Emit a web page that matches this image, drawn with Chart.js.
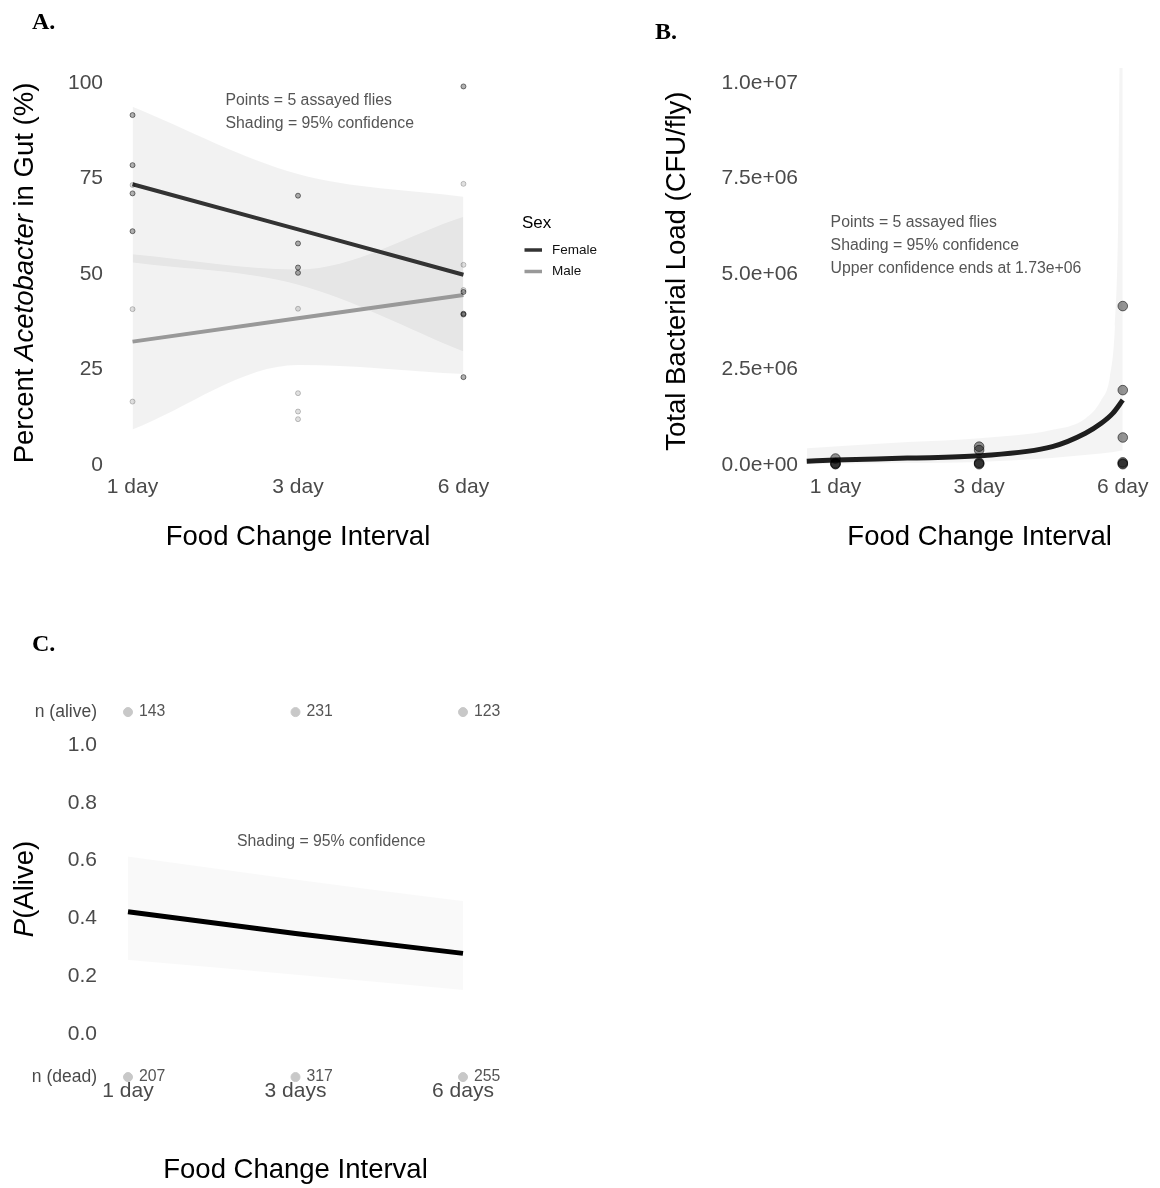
<!DOCTYPE html>
<html>
<head>
<meta charset="utf-8">
<script src="https://cdn.jsdelivr.net/npm/chart.js@4.4.1/dist/chart.umd.min.js"></script>
<style>
  body { margin: 0; background: #fff; }
  #page { position: relative; width: 1160px; height: 1188px; overflow: hidden; }
  canvas { position: absolute; }
  .tag { position: absolute; font: bold 24px "Liberation Serif", "Times New Roman", serif; line-height: 24px; color: #000; }
</style>
</head>
<body>
<div id="page">
  <canvas id="chartA" width="640" height="580" style="left:0;top:0"></canvas>
  <canvas id="chartB" width="544" height="580" style="left:620px;top:0"></canvas>
  <canvas id="chartC" width="640" height="588" style="left:0;top:600px"></canvas>
  <div class="tag" style="left:32px;top:9px">A.</div>
  <div class="tag" style="left:655px;top:19px">B.</div>
  <div class="tag" style="left:32px;top:631px">C.</div>
</div>
<script>
// categories (x positions 1..3)
var xPos = [1, 2, 3];
var daysAB = ['1 day', '3 day', '6 day'];
var daysC = ['1 day', '3 days', '6 days'];

// A - percent Acetobacter
var femaleX = [1, 1, 1, 1, 2, 2, 2, 2, 3, 3, 3, 3, 3];
var femaleY = [91.6, 78.5, 71.1, 61.2, 70.5, 58.0, 51.7, 50.3, 99.1, 45.3, 39.6, 39.4, 23.0];
var maleX = [1, 1, 1, 2, 2, 2, 2, 3, 3, 3];
var maleY = [73.3, 40.8, 16.6, 40.9, 18.8, 14.0, 12.0, 73.6, 52.4, 45.8];
var femaleFit = [73.5, 61.7, 49.8];
var femaleUpper = [93.8, 76.2, 70.2];
var femaleLower = [53.0, 47.2, 29.7];
var maleFit = [32.3, 38.4, 44.5];
var maleUpper = [55.2, 51.2, 65.0];
var maleLower = [9.3, 26.2, 23.8];
var ticksA = [0, 25, 50, 75, 100];

// B - total bacterial load
var loadX = [1, 1, 1, 1, 2, 2, 2, 2, 2, 3, 3, 3, 3, 3, 3];
var loadY = [0.17e6, 0.05e6, 0.03e6, 0.02e6, 0.48e6, 0.39e6, 0.06e6, 0.04e6, 0.02e6, 4.16e6, 1.96e6, 0.72e6, 0.07e6, 0.04e6, 0.02e6];
var fitBX = [0.8, 1, 1.5, 2, 2.51, 2.74, 2.85, 2.93, 3.0];
var fitBY = [0.10e6, 0.13e6, 0.18e6, 0.24e6, 0.48e6, 0.83e6, 1.09e6, 1.35e6, 1.70e6];
var bandBX = [0.8, 1.5, 2, 2.51, 2.74, 2.85, 2.91, 2.945, 2.967, 2.98, 3.0];
var bandBUpper = [0.44e6, 0.60e6, 0.70e6, 0.92e6, 1.22e6, 1.70e6, 2.31e6, 3.62e6, 6.24e6, 11e6, 11e6];
var bandBLower = [0.02e6, 0.05e6, 0.08e6, 0.18e6, 0.26e6, 0.30e6, 0.33e6, 0.35e6, 0.36e6, 0.37e6, 0.38e6];
var ticksB = [0, 2.5e6, 5e6, 7.5e6, 10e6];

// C - survival
var survFit = [0.423, 0.348, 0.279];
var survUpper = [0.614, 0.535, 0.460];
var survLower = [0.256, 0.205, 0.152];
var nAlive = [143, 231, 123];
var nDead = [207, 317, 255];
var ticksC = [0, 0.2, 0.4, 0.6, 0.8, 1.0];
var rowAlive = 1.114, rowDead = -0.149;

var family = '"Liberation Sans", Arial, Helvetica, sans-serif';
var titleSize = 27.5;
Chart.defaults.font.family = family;
Chart.defaults.color = '#4a4a4a';
Chart.defaults.animation = false;
Chart.defaults.events = [];
Chart.defaults.plugins.legend.display = false;
Chart.defaults.plugins.tooltip.enabled = false;

function xy(xs, ys) {
  return xs.map(function (x, i) { return { x: x, y: ys[i] }; });
}

function band(xs, ys, fill, shade) {
  return {
    data: xy(xs, ys), fill: fill, backgroundColor: shade,
    borderColor: 'rgba(0,0,0,0)', borderWidth: 0, pointRadius: 0,
    cubicInterpolationMode: 'monotone', order: 4
  };
}

function points(xs, ys, r, fillCol, edgeCol) {
  return {
    data: xy(xs, ys), showLine: false, pointRadius: r, pointBorderWidth: 1,
    pointBackgroundColor: fillCol, pointBorderColor: edgeCol,
    backgroundColor: fillCol, borderColor: edgeCol, order: 1, clip: false
  };
}

function xAxis(min, max, labels, height, titlePad) {
  return {
    type: 'linear', min: min, max: max, bounds: 'data',
    grid: { display: false, drawTicks: false }, border: { display: false },
    afterBuildTicks: function (s) { s.ticks = xPos.map(function (v) { return { value: v }; }); },
    afterFit: function (s) { s.height = height; },
    ticks: {
      autoSkip: false, maxRotation: 0, padding: 0, font: { size: 21 },
      callback: function (v) { return labels[xPos.indexOf(v)]; }
    },
    title: { display: true, text: 'Food Change Interval', color: '#000', font: { size: titleSize }, padding: { top: 0, bottom: titlePad } }
  };
}

function yAxis(min, max, ticks, width, pad, fmt) {
  return {
    type: 'linear', min: min, max: max, bounds: 'data',
    grid: { display: false, drawTicks: false }, border: { display: false },
    afterBuildTicks: function (s) { s.ticks = ticks.map(function (v) { return { value: v }; }); },
    afterFit: function (s) { s.width = width; },
    ticks: { autoSkip: false, padding: pad, font: { size: 21 }, callback: fmt }
  };
}

function rotatedTitle(ctx, cx, cy, parts) {
  ctx.save();
  ctx.translate(cx, cy);
  ctx.rotate(-Math.PI / 2);
  ctx.fillStyle = '#000';
  ctx.textBaseline = 'middle';
  ctx.textAlign = 'left';
  var total = 0;
  parts.forEach(function (p) {
    ctx.font = (p.italic ? 'italic ' : '') + titleSize + 'px ' + family;
    p.w = ctx.measureText(p.text).width;
    total += p.w;
  });
  var x = -total / 2;
  parts.forEach(function (p) {
    ctx.font = (p.italic ? 'italic ' : '') + titleSize + 'px ' + family;
    ctx.fillText(p.text, x, 0);
    x += p.w;
  });
  ctx.restore();
}

// notes written at data coordinates
function drawNotes(chart, x, ys, lines) {
  var ctx = chart.ctx;
  var sx = chart.scales.x, sy = chart.scales.y;
  ctx.save();
  ctx.font = '15.8px ' + family;
  ctx.fillStyle = '#555';
  ctx.textBaseline = 'middle';
  ctx.textAlign = 'left';
  lines.forEach(function (t, i) {
    ctx.fillText(t, sx.getPixelForValue(x), sy.getPixelForValue(ys[i]));
  });
  ctx.restore();
}

// ---------- A ----------
new Chart(document.getElementById('chartA'), {
  type: 'line',
  data: {
    datasets: [
      band(xPos, femaleUpper, '+1', 'rgba(0,0,0,0.05)'),
      band(xPos, femaleLower, false, 'rgba(0,0,0,0)'),
      band(xPos, maleUpper, '+1', 'rgba(0,0,0,0.05)'),
      band(xPos, maleLower, false, 'rgba(0,0,0,0)'),
      { label: 'Female', data: xy(xPos, femaleFit), borderColor: '#333', borderWidth: 4, pointRadius: 0, fill: false, order: 2 },
      { label: 'Male', data: xy(xPos, maleFit), borderColor: '#999', borderWidth: 4, pointRadius: 0, fill: false, order: 2 },
      points(femaleX, femaleY, 2.5, 'rgba(0,0,0,0.3)', 'rgba(0,0,0,0.5)'),
      points(maleX, maleY, 2.5, 'rgba(0,0,0,0.12)', 'rgba(0,0,0,0.22)')
    ]
  },
  options: {
    responsive: false,
    layout: { padding: { top: 71.54, left: 0, right: 160, bottom: 0 } },
    scales: {
      x: xAxis(0.9, 3.1, daysAB, 105.45, 26.5),
      y: yAxis(-2.5, 103, ticksA, 116, 13, function (v) { return String(v); })
    }
  },
  plugins: [{
    id: 'extrasA',
    afterDraw: function (chart) {
      var ctx = chart.ctx;
      rotatedTitle(ctx, 25, 273, [{ text: 'Percent ' }, { text: 'Acetobacter', italic: true }, { text: ' in Gut (%)' }]);
      drawNotes(chart, 1.562, [95.3, 89.3], ['Points = 5 assayed flies', 'Shading = 95% confidence']);
      // legend
      ctx.save();
      ctx.textBaseline = 'middle';
      ctx.textAlign = 'left';
      ctx.fillStyle = '#000';
      ctx.font = '17px ' + family;
      ctx.fillText('Sex', 522, 223);
      ctx.font = '13.5px ' + family;
      [['Female', '#333', 250], ['Male', '#999', 271.5]].forEach(function (it) {
        ctx.strokeStyle = it[1];
        ctx.lineWidth = 3.5;
        ctx.beginPath();
        ctx.moveTo(524.5, it[2]);
        ctx.lineTo(542, it[2]);
        ctx.stroke();
        ctx.fillStyle = '#111';
        ctx.fillText(it[0], 552, it[2]);
      });
      ctx.restore();
    }
  }]
});

// ---------- B ----------
function sci(v) {
  return v.toExponential(1).replace(/e([+-])(\d)$/, 'e$10$2');
}

new Chart(document.getElementById('chartB'), {
  type: 'line',
  data: {
    datasets: [
      band(bandBX, bandBUpper, '+1', 'rgba(0,0,0,0.045)'),
      band(bandBX, bandBLower, false, 'rgba(0,0,0,0)'),
      { data: xy(fitBX, fitBY), borderColor: '#1e1e1e', borderWidth: 5, pointRadius: 0, fill: false, cubicInterpolationMode: 'monotone', order: 2 },
      points(loadX, loadY, 4.8, 'rgba(0,0,0,0.42)', 'rgba(0,0,0,0.55)')
    ]
  },
  options: {
    responsive: false,
    layout: { padding: { top: 67.7, left: 0, right: 0, bottom: 0 } },
    scales: {
      x: xAxis(0.76, 3.2466, daysAB, 105.45, 26.5),
      y: Object.assign(yAxis(-0.25e6, 10.4e6, ticksB, 181, 3, sci), {
        title: { display: true, text: 'Total Bacterial Load (CFU/fly)', color: '#000', font: { size: titleSize }, padding: { top: 40.5, bottom: 0 } }
      })
    }
  },
  plugins: [{
    id: 'extrasB',
    afterDraw: function (chart) {
      drawNotes(chart, 0.966, [6.335e6, 5.733e6, 5.131e6],
        ['Points = 5 assayed flies', 'Shading = 95% confidence', 'Upper confidence ends at 1.73e+06']);
    }
  }]
});

// ---------- C ----------
var cTickFont = function (c) {
  var v = c.tick ? c.tick.value : 0;
  return (v === rowAlive || v === rowDead) ? { size: 17.5 } : { size: 21 };
};

new Chart(document.getElementById('chartC'), {
  type: 'line',
  data: {
    datasets: [
      band(xPos, survUpper, '+1', 'rgba(0,0,0,0.025)'),
      band(xPos, survLower, false, 'rgba(0,0,0,0)'),
      { data: xy(xPos, survFit), borderColor: '#000', borderWidth: 5, pointRadius: 0, fill: false, order: 2 },
      Object.assign(points(xPos, xPos.map(function () { return rowAlive; }), 4.5, '#c8c8c8', '#c8c8c8'), { counts: nAlive }),
      Object.assign(points(xPos, xPos.map(function () { return rowDead; }), 4.5, '#c8c8c8', '#c8c8c8'), { counts: nDead })
    ]
  },
  options: {
    responsive: false,
    layout: { padding: { top: 95.9, left: 0, right: 160.25, bottom: 0 } },
    scales: {
      x: xAxis(0.9, 3.1, daysC, 109.2, 1.5),
      y: (function () {
        var ax = yAxis(-0.155, 1.17, [rowDead].concat(ticksC, [rowAlive]), 111.25, 14.25, function (v) {
          if (v === rowAlive) return 'n (alive)';
          if (v === rowDead) return 'n (dead)';
          return v.toFixed(1);
        });
        ax.ticks.font = cTickFont;
        return ax;
      })()
    }
  },
  plugins: [{
    id: 'extrasC',
    afterDraw: function (chart) {
      var ctx = chart.ctx;
      rotatedTitle(ctx, 25, 289, [{ text: 'P', italic: true }, { text: '(Alive)' }]);
      drawNotes(chart, 1.651, [0.664], ['Shading = 95% confidence']);
      ctx.save();
      ctx.font = '15.8px ' + family;
      ctx.fillStyle = '#555';
      ctx.textBaseline = 'middle';
      ctx.textAlign = 'left';
      chart.data.datasets.forEach(function (ds, i) {
        if (!ds.counts) return;
        chart.getDatasetMeta(i).data.forEach(function (el, j) {
          ctx.fillText(String(ds.counts[j]), el.x + 11, el.y);
        });
      });
      ctx.restore();
    }
  }]
});
</script>
</body>
</html>
